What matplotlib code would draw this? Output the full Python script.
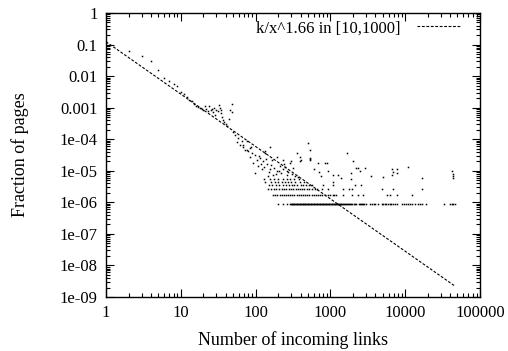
import matplotlib
matplotlib.use("Agg")
import matplotlib.pyplot as plt
import numpy as np

plt.rcParams['font.family'] = ['Liberation Serif', 'DejaVu Serif']

# total number of pages (1 page -> lowest band)
n_pages = 1.13e6

# low in-degree part, fractions
head_k = [1, 2, 3, 4, 5, 6, 7, 8, 9, 10, 11, 12, 13, 14, 15, 16, 17, 18, 19, 20,
          21, 22, 23, 24, 25, 26, 27, 28, 29, 30, 31, 32, 33, 34, 35, 36, 37, 38,
          40, 42, 44, 46, 48, 49]
head_frac = [0.115, 0.063, 0.043, 0.030, 0.016, 0.0085, 0.0068, 0.0058, 0.0049, 0.0032,
             0.0027, 0.0021, 0.0018, 0.0016, 0.0013, 0.0011, 0.00105, 0.00095, 0.00088, 0.00084,
             0.0011, 0.00092, 0.00078, 0.0011, 0.00082, 0.00088, 0.00072, 0.00095, 0.00058, 0.00086,
             0.00079, 0.0012, 0.0010, 0.00085, 0.00066, 0.00052, 0.00041, 0.00035,
             0.00030, 0.00026, 0.00044, 0.00085, 0.0013, 0.00072]

# middle cloud (k ~ 50..400)
cloud_k = [50, 53, 56, 58, 62, 65, 68, 68, 72, 76, 76, 79, 84, 84, 88, 89, 92, 98, 98,
           104, 108, 114, 121, 125, 133, 133, 141, 146, 155, 155, 165, 170, 193, 193,
           212, 232, 232, 240, 250, 265, 289, 300, 320, 358, 393, 110, 118, 128, 137,
           150, 160, 178, 185, 205, 220, 260, 275, 310, 340, 370]
cloud_frac = [1.7e-4, 1.4e-4, 8.4e-5, 1.1e-4, 6.6e-5, 8.5e-5, 5.7e-5, 6.6e-5, 4.6e-5, 8.5e-5,
              4.6e-5, 4.1e-5, 5.3e-5, 2.8e-5, 5.8e-5, 3.7e-5, 1.8e-5, 3.2e-5, 8.7e-6,
              2.2e-5, 1.4e-5, 2.6e-5, 1.1e-5, 2.0e-5, 4.1e-5, 3.6e-5, 1.6e-5, 6.9e-6, 1.1e-5,
              5.8e-5, 2.2e-5, 7.6e-6, 9.5e-6, 2.8e-5, 1.4e-5, 1.1e-5, 2.2e-5, 1.6e-5, 1.3e-5,
              9.5e-6, 1.8e-5, 2.0e-5, 1.2e-5, 3.7e-5, 2.0e-5, 3.0e-5, 1.7e-5, 1.3e-5, 2.4e-5,
              9.0e-6, 1.5e-5, 1.2e-5, 8.0e-6, 1.0e-5, 8.5e-6, 7.5e-6, 9.0e-6, 8.0e-6, 7.0e-6, 6.5e-6]

# discrete bands: in-degree values having exactly c pages
band1_k = [200, 232, 262, 289, 296, 302, 309, 317, 323, 331, 338, 346, 353, 362, 370, 379,
           387, 396, 405, 414, 424, 433, 443, 454, 464, 475, 486, 497, 509, 521, 533,
           545, 557, 570, 584, 597, 611, 625, 640, 654, 670, 685, 701, 718, 734, 751,
           769, 787, 805, 824, 843, 862, 882, 903, 924, 946, 968, 990, 1013, 1037,
           1061, 1086, 1111, 1137, 1163, 1190, 1218, 1246, 1275, 1305, 1335, 1366, 1400,
           1450, 1490, 1530, 1580, 1620, 1680, 1730, 1790, 1850, 1900, 1970, 2040,
           2100, 2180, 2400, 2480, 2560, 2650, 2750, 2850, 2950, 3400, 3600, 3800,
           4000, 4300, 4900, 5100, 5400, 5600, 5900, 6200, 6500, 6900, 7200, 7700,
           9000, 9500, 10200, 10800, 11500, 12300, 13500, 15000, 16000, 17000,
           19000, 33000, 40000, 42000, 44000, 46000]
band2_k = [170, 180, 195, 210, 225, 240, 255, 270, 290, 310, 330, 355, 380, 400, 430,
           460, 490, 520, 560, 600, 640, 690, 720, 780, 850, 930, 1000, 1070, 1120,
           1200, 1470, 1930, 2340, 2720, 5700, 6300, 7700, 12500]
band3_k = [145, 160, 175, 190, 205, 222, 240, 258, 280, 300, 320, 345, 370, 390, 420,
           450, 480, 520, 560, 620, 660, 770, 930, 1470, 1800, 1930, 4900, 6900, 16700]
band4_k = [150, 168, 185, 205, 230, 255, 280, 310, 330, 360, 400, 430, 470, 520, 570,
           800, 1080, 2100, 2600]
band5_k = [133, 160, 180, 200, 225, 250, 275, 300, 340, 390, 450, 1080]
band6_k = [128, 155, 175, 200, 230, 260, 290, 330, 380, 1900]

# isolated points above the bands
tail_k = [500, 535, 535, 540, 530, 390, 410, 680, 840, 900, 930, 1660, 2000, 2350,
          2900, 1900, 1100, 2200, 2500, 5000, 6600, 6800, 7700, 7700, 11000,
          16700, 6600, 42000, 43000, 43000, 43000, 600, 700, 760, 1250, 1400, 3500]
tail_frac = [7.6e-5, 4.6e-5, 2.4e-5, 2.6e-5, 2.2e-5, 2.7e-5, 2.2e-5, 1.8e-5, 1.8e-5,
             1.8e-5, 9.5e-6, 3.6e-5, 2.1e-5, 1.2e-5, 1.2e-5, 8.7e-6, 7.5e-6, 1.2e-5,
             1.0e-5, 6.5e-6, 1.1e-5, 8.9e-6, 1.1e-5, 8.7e-6, 1.3e-5, 5.9e-6, 7.5e-6,
             1.0e-5, 8.0e-6, 7.0e-6, 6.0e-6, 1.1e-5, 9.0e-6, 7.0e-6, 7.5e-6, 6.0e-6, 7.0e-6]

# fitted power law
fit_coef = 0.123
fit_alpha = 1.66
fit_x = np.array([1, 45000])

fig = plt.figure(figsize=(5.08, 3.51), dpi=100)
ax = fig.add_axes([106 / 508, 54 / 351, 374 / 508, 284 / 351])

dot = dict(ls='none', marker='s', ms=1.1, mew=0, color='black')
ax.plot(head_k, head_frac, **dot)
ax.plot(cloud_k, cloud_frac, **dot)
ax.plot(tail_k, tail_frac, **dot)
for c, ks in enumerate([band1_k, band2_k, band3_k, band4_k, band5_k, band6_k], start=1):
    ax.plot(ks, [c / n_pages] * len(ks), **dot)

ax.plot(fit_x, fit_coef / fit_x ** fit_alpha, color='black', lw=0.8,
        ls=(0, (2.5, 1.5)), label='k/x^1.66 in [10,1000]')

ax.set_xscale('log')
ax.set_yscale('log')
ax.set_xlim(1, 100000)
ax.set_ylim(1e-9, 1)

xt = [1, 10, 100, 1000, 10000, 100000]
ax.set_xticks(xt)
ax.set_xticklabels([str(v) for v in xt])
yt = [1e-9, 1e-8, 1e-7, 1e-6, 1e-5, 1e-4, 1e-3, 1e-2, 1e-1, 1]
ylab = ['1e-09', '1e-08', '1e-07', '1e-06', '1e-05', '1e-04', '0.001', '0.01', '0.1', '1']
ax.set_yticks(yt)
ax.set_yticklabels(ylab)
ax.minorticks_on()
ax.xaxis.set_minor_locator(matplotlib.ticker.LogLocator(base=10, subs=np.arange(2, 10), numticks=20))
ax.yaxis.set_minor_locator(matplotlib.ticker.LogLocator(base=10, subs=np.arange(2, 10), numticks=20))
ax.xaxis.set_minor_formatter(matplotlib.ticker.NullFormatter())
ax.yaxis.set_minor_formatter(matplotlib.ticker.NullFormatter())
ax.tick_params(which='both', direction='in', top=True, right=True, labelsize=12, width=0.8)
ax.tick_params(which='major', length=6, pad=6)
ax.tick_params(which='minor', length=3)
for s in ax.spines.values():
    s.set_linewidth(1.0)

ax.set_xlabel('Number of incoming links', fontsize=13, labelpad=7)
ax.set_ylabel('Fraction of pages', fontsize=13, labelpad=22)

ax.legend(loc='upper right', bbox_to_anchor=(0.975, 1.01), frameon=False, fontsize=12,
          markerfirst=False, handlelength=2.6, handletextpad=1.0, borderaxespad=0.2)

fig.savefig('out.png', dpi=100)
